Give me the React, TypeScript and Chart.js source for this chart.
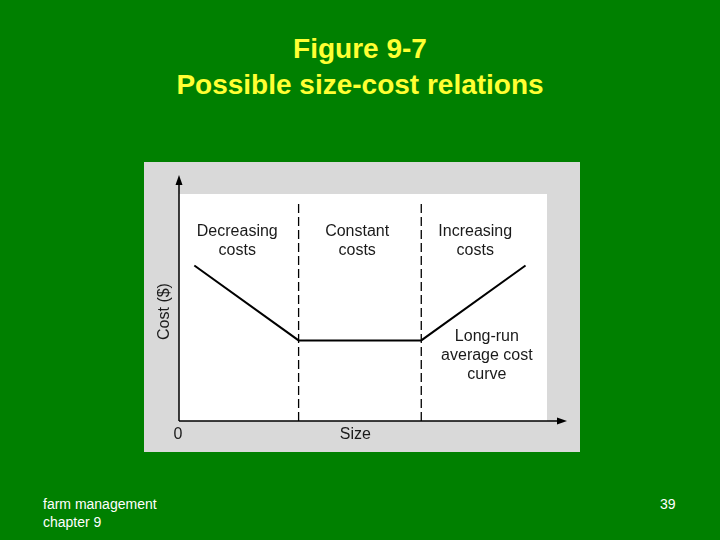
import { useEffect, useRef } from "react"
import { Chart, type ChartConfiguration, type Plugin, registerables } from "chart.js"

Chart.register(...registerables)

// long-run average cost curve (size, cost)
const sizes = [0.5, 3.9, 7.9, 11.3]
const costs = [6.85, 3.55, 3.55, 6.85]

// dashed boundaries between cost regions
const boundaries = [3.9, 7.9]
const boundaryTop = 9.7

const regionLabels = [
  ["Decreasing", "costs"],
  ["Constant", "costs"],
  ["Increasing", "costs"],
]
const curveLabel = ["Long-run", "average cost", "curve"]
const xTitle = "Size"
const yTitle = "Cost ($)"
const originLabel = "0"

const FONT = '"Liberation Sans", Arial, Helvetica, sans-serif'

const figurePlugin: Plugin<"line"> = {
  id: "figure",
  beforeDraw(chart) {
    const { ctx, chartArea, width, height } = chart
    ctx.save()
    ctx.fillStyle = "#d9d9d9"
    ctx.fillRect(0, 0, width, height)
    ctx.fillStyle = "#ffffff"
    ctx.fillRect(chartArea.left, chartArea.top, chartArea.right - chartArea.left, chartArea.bottom - chartArea.top)
    ctx.restore()
  },
  afterDraw(chart) {
    const { ctx, chartArea } = chart
    const x = chart.scales.x
    const y = chart.scales.y
    const left = chartArea.left
    const bottom = chartArea.bottom
    const yTip = chartArea.top - 19
    const xTip = chartArea.right + 20

    ctx.save()
    // axes
    ctx.strokeStyle = "#000"
    ctx.fillStyle = "#000"
    ctx.lineWidth = 1.5
    ctx.beginPath()
    ctx.moveTo(left, bottom)
    ctx.lineTo(left, yTip + 6)
    ctx.moveTo(left, bottom)
    ctx.lineTo(xTip - 6, bottom)
    ctx.stroke()
    // arrowheads
    ctx.beginPath()
    ctx.moveTo(left, yTip)
    ctx.lineTo(left - 3.5, yTip + 10)
    ctx.lineTo(left + 3.5, yTip + 10)
    ctx.closePath()
    ctx.fill()
    ctx.beginPath()
    ctx.moveTo(xTip, bottom)
    ctx.lineTo(xTip - 10, bottom - 3.5)
    ctx.lineTo(xTip - 10, bottom + 3.5)
    ctx.closePath()
    ctx.fill()

    // text
    ctx.font = `16px ${FONT}`
    ctx.textAlign = "center"
    ctx.textBaseline = "middle"
    ctx.fillStyle = "#1a1a1a"

    const regionX = [1.9, 5.81, 9.66]
    regionLabels.forEach((lines, i) => {
      lines.forEach((t, j) => {
        ctx.fillText(t, x.getPixelForValue(regionX[i]), y.getPixelForValue(8.42) + 2 + j * 19)
      })
    })
    curveLabel.forEach((t, j) => {
      ctx.fillText(t, x.getPixelForValue(10.04), y.getPixelForValue(3.8) + 2 + j * 19)
    })

    ctx.fillText(xTitle, x.getPixelForValue(5.75), bottom + 13.5)
    ctx.fillText(originLabel, left - 1, bottom + 13.5)

    ctx.translate(left - 14, (chartArea.top + bottom) / 2 + 4)
    ctx.rotate(-Math.PI / 2)
    ctx.fillText(yTitle, 0, 0)
    ctx.restore()
  },
}

function Figure() {
  const chartRef = useRef<HTMLCanvasElement>(null)
  const chartInstanceRef = useRef<Chart<"line"> | null>(null)

  useEffect(() => {
    if (!chartRef.current) return
    const ctx = chartRef.current.getContext("2d")
    if (!ctx) return

    if (chartInstanceRef.current) {
      chartInstanceRef.current.destroy()
    }

    const config: ChartConfiguration<"line"> = {
      type: "line",
      data: {
        datasets: [
          {
            label: "Long-run average cost",
            data: sizes.map((s, i) => ({ x: s, y: costs[i] })),
            borderColor: "#000",
            borderWidth: 2,
            pointRadius: 0,
            tension: 0,
          },
          ...boundaries.map((b) => ({
            label: "boundary",
            data: [
              { x: b, y: 0 },
              { x: b, y: boundaryTop },
            ],
            borderColor: "#000",
            borderWidth: 1.3,
            borderDash: [9, 4],
            pointRadius: 0,
          })),
        ],
      },
      options: {
        responsive: false,
        animation: false,
        layout: {
          padding: { left: 35, top: 32, right: 33, bottom: 31 },
        },
        plugins: {
          legend: { display: false },
          tooltip: { enabled: false },
        },
        scales: {
          x: { type: "linear", min: 0, max: 12, display: false },
          y: { type: "linear", min: 0, max: 10, display: false },
        },
      },
      plugins: [figurePlugin],
    }

    chartInstanceRef.current = new Chart(ctx, config)

    return () => {
      if (chartInstanceRef.current) {
        chartInstanceRef.current.destroy()
        chartInstanceRef.current = null
      }
    }
  }, [])

  return <canvas ref={chartRef} width={436} height={290} style={{ position: "absolute", left: 144, top: 162 }} />
}

export default function App() {
  return (
    <div
      style={{
        position: "absolute",
        left: 0,
        top: 0,
        width: 720,
        height: 540,
        background: "#008000",
        fontFamily: FONT,
        overflow: "hidden",
      }}
    >
      <div
        style={{
          position: "absolute",
          left: 0,
          top: 31,
          width: 720,
          textAlign: "center",
          color: "#ffff33",
          fontWeight: "bold",
          fontSize: 28,
          lineHeight: "36px",
        }}
      >
        <div>Figure 9-7</div>
        <div>Possible size-cost relations</div>
      </div>
      <Figure />
      <div style={{ position: "absolute", left: 43, top: 495, color: "#fff", fontSize: 14, lineHeight: "18px" }}>
        <div>farm management</div>
        <div>chapter 9</div>
      </div>
      <div style={{ position: "absolute", left: 660, top: 495, color: "#fff", fontSize: 14, lineHeight: "18px" }}>39</div>
    </div>
  )
}
